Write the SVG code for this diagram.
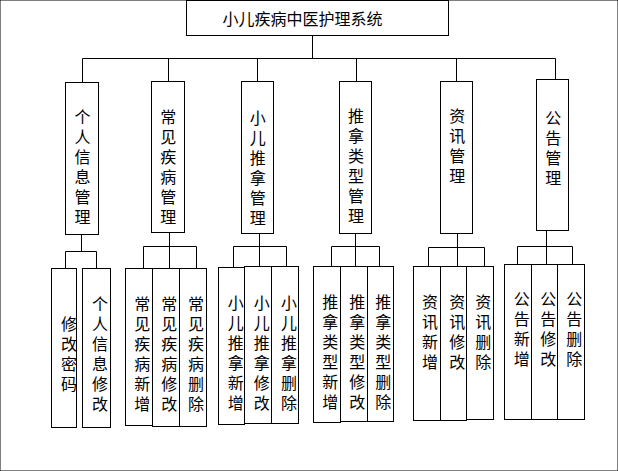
<svg xmlns="http://www.w3.org/2000/svg" width="618" height="471" viewBox="0 0 618 471">
<style>
rect{fill:#fff;stroke:#000;stroke-width:1}
.c path{fill:none;stroke:#000;stroke-width:1}
text{font-family:"Noto Sans CJK SC","Noto Sans",sans-serif;font-size:16px;fill:#000}
.v{writing-mode:vertical-rl;text-orientation:upright;letter-spacing:4px;text-anchor:start}
</style>
<rect width="618" height="471" fill="#fff" stroke="none"/>
<g class="c" id="connectors">
<path d="M312.5 35.5V59M82.5 58.5H555.5M82.5 58.5V82.5M168.5 58.5V81.5M257.5 58.5V81.5M356.5 58.5V81.5M456.5 58.5V81.5M555.5 58.5V79.5"/>
<path d="M81.5 234.5V251.5M65.5 251.5H96.5M65.5 251.5V268.5M96.5 251.5V268.5"/>
<path d="M169.5 232.5V246.5M143.5 246.5H196.5M143.5 246.5V268.5M169.5 246.5V268.5M196.5 246.5V268.5"/>
<path d="M259.5 233.5V246.5M233.5 246.5H286.5M233.5 246.5V267.5M259.5 246.5V266.5M286.5 246.5V266.5"/>
<path d="M355.5 233.5V246.5M331.5 246.5H379.5M331.5 246.5V266.5M355.5 246.5V266.5M379.5 246.5V266.5"/>
<path d="M457.5 233.5V247.5M428.5 247.5H484.5M428.5 247.5V266.5M457.5 247.5V266.5M484.5 247.5V266.5"/>
<path d="M546.5 230.5V246.5M517.5 246.5H572.5M517.5 246.5V264.5M546.5 246.5V264.5M572.5 246.5V264.5"/>
</g>
<g id="root"><rect x="186.5" y="0.5" width="262" height="35"/><text x="222.5" y="25">小儿疾病中医护理系统</text></g>
<g id="n1"><rect x="65.5" y="82.5" width="33" height="152"/><text class="v" x="82.5" y="109">个人信息管理</text></g>
<g id="n2"><rect x="151.5" y="81.5" width="33" height="151"/><text class="v" x="168.3" y="108.5">常见疾病管理</text></g>
<g id="n3"><rect x="241.5" y="81.5" width="32" height="152"/><text class="v" x="257.7" y="110">小儿推拿管理</text></g>
<g id="n4"><rect x="339.5" y="81.5" width="32" height="152"/><text class="v" x="356" y="108">推拿类型管理</text></g>
<g id="n5"><rect x="440.5" y="81.5" width="32" height="152"/><text class="v" x="457.3" y="108">资讯管理</text></g>
<g id="n6"><rect x="536.5" y="79.5" width="32" height="151"/><text class="v" x="553.3" y="110">公告管理</text></g>
<g id="n1a"><rect x="51.5" y="268.5" width="25" height="159"/><text class="v" x="69" y="315.5">修改密码</text></g>
<g id="n1b"><rect x="82.5" y="268.5" width="28" height="159"/><text class="v" x="100" y="295.5">个人信息修改</text></g>
<g id="n2a"><rect x="125.5" y="268.5" width="27" height="157"/><text class="v" x="142.3" y="295.5">常见疾病新增</text></g>
<g id="n2b"><rect x="152.5" y="268.5" width="27" height="158"/><text class="v" x="169.3" y="295.5">常见疾病修改</text></g>
<g id="n2c"><rect x="179.5" y="268.5" width="27" height="158"/><text class="v" x="196" y="295.5">常见疾病删除</text></g>
<g id="n3a"><rect x="218.5" y="267.5" width="26" height="157"/><text class="v" x="235.7" y="294.5">小儿推拿新增</text></g>
<g id="n3b"><rect x="244.5" y="266.5" width="27" height="157"/><text class="v" x="261.7" y="294.5">小儿推拿修改</text></g>
<g id="n3c"><rect x="271.5" y="266.5" width="27" height="157"/><text class="v" x="289" y="294.5">小儿推拿删除</text></g>
<g id="n4a"><rect x="313.5" y="266.5" width="27" height="156"/><text class="v" x="330.3" y="293.7">推拿类型新增</text></g>
<g id="n4b"><rect x="340.5" y="266.5" width="27" height="155"/><text class="v" x="357.3" y="293.7">推拿类型修改</text></g>
<g id="n4c"><rect x="367.5" y="266.5" width="26" height="155"/><text class="v" x="383.3" y="293.7">推拿类型删除</text></g>
<g id="n5a"><rect x="413.5" y="266.5" width="27" height="154"/><text class="v" x="430" y="293.7">资讯新增</text></g>
<g id="n5b"><rect x="440.5" y="266.5" width="26" height="154"/><text class="v" x="457.3" y="293.7">资讯修改</text></g>
<g id="n5c"><rect x="466.5" y="266.5" width="27" height="153"/><text class="v" x="483.3" y="293.7">资讯删除</text></g>
<g id="n6a"><rect x="504.5" y="264.5" width="27" height="155"/><text class="v" x="521.7" y="291">公告新增</text></g>
<g id="n6b"><rect x="531.5" y="264.5" width="26" height="155"/><text class="v" x="548.3" y="291">公告修改</text></g>
<g id="n6c"><rect x="557.5" y="264.5" width="27" height="155"/><text class="v" x="574.3" y="291">公告删除</text></g>
</svg>
